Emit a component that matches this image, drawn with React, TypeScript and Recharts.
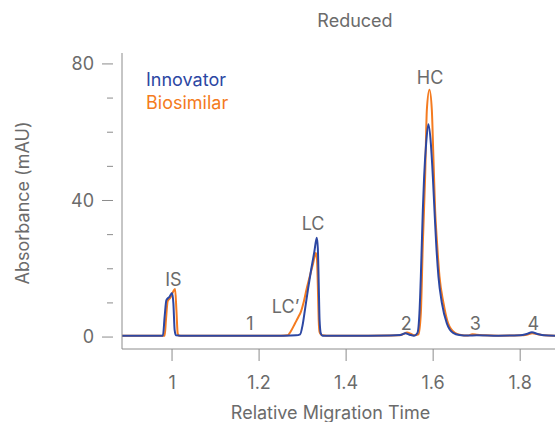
import React from 'react'
import {
  LineChart,
  Line,
  XAxis,
  YAxis,
  Legend,
  ReferenceDot,
} from 'recharts'

// Innovator trace (relative migration time, absorbance in mAU)
const innovatorTime = [
  0.885, 0.93, 0.96, 0.979, 0.983, 0.987, 0.994, 1.0, 1.003, 1.006, 1.009, 1.02,
  1.06, 1.1, 1.15, 1.2, 1.25, 1.285, 1.2943, 1.3, 1.306, 1.313, 1.32, 1.327, 1.3326,
  1.335, 1.337, 1.339, 1.342, 1.346, 1.355, 1.4, 1.45, 1.5, 1.525, 1.536, 1.546,
  1.556, 1.5639, 1.5685, 1.5717, 1.574, 1.5763, 1.5793, 1.5839, 1.589, 1.5947,
  1.5993, 1.603, 1.6069, 1.6122, 1.62, 1.6315, 1.646, 1.66, 1.68, 1.7,
  1.75, 1.8, 1.815, 1.827, 1.84, 1.855, 1.88,
]
const innovatorAbs = [
  0.4, 0.4, 0.4, 0.4, 6, 10.8, 11.8, 12.9, 10, 2, 0.5, 0.4,
  0.4, 0.35, 0.35, 0.35, 0.4, 0.5, 0.8, 3.5, 8.5, 14.5, 20, 25, 29.1,
  26, 16, 5, 1, 0.4, 0.4, 0.4, 0.4, 0.45, 0.6, 1.1, 0.7,
  0.4, 1.2, 7, 17.7, 27.5, 37.2, 47, 56.7, 62.3, 56.7,
  47, 37.2, 27.5, 17.7, 10, 4, 1.2, 0.6, 0.45, 0.5,
  0.4, 0.5, 0.9, 1.4, 0.9, 0.5, 0.4,
]

// Biosimilar trace
const biosimilarTime = [
  0.885, 0.93, 0.96, 0.983, 0.986, 0.99, 0.996, 1.003, 1.007, 1.01, 1.013, 1.016,
  1.06, 1.1, 1.15, 1.2, 1.25, 1.266, 1.272, 1.283, 1.29, 1.296, 1.303, 1.31, 1.317,
  1.324, 1.3303, 1.333, 1.335, 1.337, 1.339, 1.342, 1.346, 1.355, 1.4, 1.45, 1.5,
  1.52, 1.53, 1.54, 1.548, 1.556, 1.5662, 1.5717, 1.5763, 1.5816, 1.5855, 1.5915,
  1.597, 1.6, 1.6046, 1.609, 1.6146, 1.6237, 1.6345, 1.65, 1.664, 1.68, 1.69, 1.7,
  1.72, 1.75, 1.8, 1.815, 1.828, 1.84, 1.855, 1.88,
]
const biosimilarAbs = [
  0.4, 0.4, 0.4, 0.4, 5, 10.5, 11.5, 13.4, 14.1, 8, 1, 0.4,
  0.4, 0.35, 0.35, 0.35, 0.4, 0.5, 1.5, 4.1, 5.8, 7.4, 10.5, 14.5, 18,
  21.5, 24.6, 23, 15, 5, 1.5, 0.8, 0.5, 0.4, 0.4, 0.4, 0.45,
  0.5, 0.8, 1.3, 1.0, 0.5, 0.8, 7, 27.5, 47, 66.5, 72.4,
  66.5, 55, 37, 27.5, 17.7, 10, 4, 1.2, 0.6, 0.45, 0.8, 0.7,
  0.5, 0.4, 0.5, 0.7, 1.1, 0.8, 0.5, 0.4,
]

const xTicks = [1, 1.2, 1.4, 1.6, 1.8]
const yTicks = [0, 10, 20, 30, 40, 50, 60, 70, 80]
const yLabelled = [0, 40, 80]

const peakLabels = ['IS', '1', 'LC\u2019', 'LC', '2', 'HC', '3', '4']
const peakLabelTime = [1.003, 1.179, 1.261, 1.324, 1.538, 1.593, 1.697, 1.83]
const peakLabelAbs = [16.7, 4, 8.9, 33.1, 4, 76, 4, 4]

const seriesNames = ['Innovator', 'Biosimilar']

const BLUE = '#2c47a3'
const ORANGE = '#f47b20'
const TEXT = '#6b6b6b'
const AXIS = '#8c8c8c'
const FONT = 'Inter, sans-serif'
const FS = 18

const innovatorData = innovatorTime.map((t, i) => ({ t, v: innovatorAbs[i] }))
const biosimilarData = biosimilarTime.map((t, i) => ({ t, v: biosimilarAbs[i] }))

function YTick({ x, y, payload }: any) {
  const major = yLabelled.includes(payload.value)
  return (
    <g>
      <line x1={x - (major ? 14 : 9)} x2={x - 3} y1={y} y2={y} stroke={AXIS} />
      {major && (
        <text x={x - 22} y={y} dy="0.35em" textAnchor="end" fill={TEXT} fontSize={FS}>
          {payload.value}
        </text>
      )}
    </g>
  )
}

function XTitle({ viewBox }: any) {
  return (
    <text
      x={viewBox.x + viewBox.width / 2 - 8}
      y={viewBox.y + viewBox.height - 3}
      textAnchor="middle"
      fill={TEXT}
      fontSize={FS}
    >
      Relative Migration Time
    </text>
  )
}

function YTitle({ viewBox }: any) {
  const cx = 22
  const cy = viewBox.y + viewBox.height / 2 + 2
  return (
    <text
      x={cx}
      y={cy}
      transform={`rotate(-90 ${cx} ${cy})`}
      textAnchor="middle"
      dominantBaseline="central"
      fill={TEXT}
      fontSize={FS}
    >
      Absorbance (mAU)
    </text>
  )
}

function LegendBox({ payload }: any) {
  const items = [...(payload || [])].sort(
    (a: any, b: any) => seriesNames.indexOf(a.value) - seriesNames.indexOf(b.value)
  )
  return (
    <div style={{ fontFamily: FONT, fontSize: FS, lineHeight: '23px' }}>
      {items.map((it: any) => (
        <div key={it.value} style={{ color: it.color }}>
          {it.value}
        </div>
      ))}
    </div>
  )
}

export default function App() {
  return (
    <div
      style={{
        position: 'absolute',
        left: 0,
        top: 0,
        width: 555,
        height: 422,
        background: '#fff',
        fontFamily: FONT,
      }}
    >
      <div
        style={{
          position: 'absolute',
          top: 11,
          left: 300,
          width: 110,
          textAlign: 'center',
          fontSize: FS,
          lineHeight: '20px',
          color: TEXT,
        }}
      >
        Reduced
      </div>
      <LineChart
        width={555}
        height={422}
        margin={{ top: 53, right: 0, bottom: 0, left: 0 }}
      >
        <XAxis
          type="number"
          dataKey="t"
          domain={[0.885, 1.88]}
          ticks={xTicks}
          allowDataOverflow
          height={73}
          stroke={AXIS}
          tickSize={12}
          tickMargin={15}
          tick={{ fill: TEXT, fontSize: FS }}
          label={<XTitle />}
        />
        <YAxis
          type="number"
          dataKey="v"
          domain={[-3.5, 83.2]}
          ticks={yTicks}
          allowDataOverflow
          width={122}
          stroke={AXIS}
          tickLine={false}
          tickMargin={0}
          tick={<YTick />}
          label={<YTitle />}
        />
        <Legend
          layout="vertical"
          align="center"
          verticalAlign="middle"
          wrapperStyle={{ position: 'absolute', left: 146, top: 68, width: 'auto' }}
          content={<LegendBox />}
        />
        <Line
          data={biosimilarData}
          dataKey="v"
          name="Biosimilar"
          type="monotone"
          stroke={ORANGE}
          strokeWidth={2}
          dot={false}
          isAnimationActive={false}
        />
        <Line
          data={innovatorData}
          dataKey="v"
          name="Innovator"
          type="monotone"
          stroke={BLUE}
          strokeWidth={2}
          dot={false}
          isAnimationActive={false}
        />
        {peakLabels.map((s, i) => (
          <ReferenceDot
            key={s}
            x={peakLabelTime[i]}
            y={peakLabelAbs[i]}
            r={0}
            fill="none"
            stroke="none"
            ifOverflow="visible"
            label={{ value: s, position: 'center', fill: TEXT, fontSize: FS }}
          />
        ))}
      </LineChart>
    </div>
  )
}
